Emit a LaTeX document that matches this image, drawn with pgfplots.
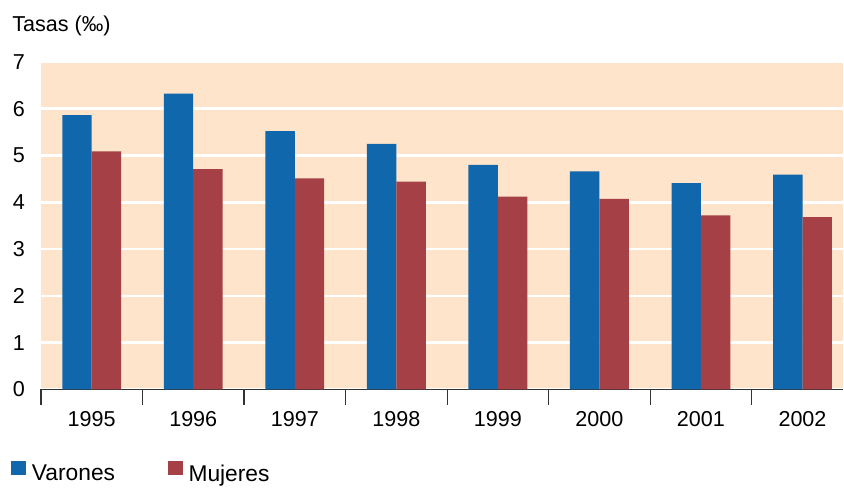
\documentclass[border=0pt]{standalone}
\usepackage{pgfplots}
\pgfplotsset{compat=1.18}
\usepackage{fontspec}
\setmainfont{Liberation Sans}
\definecolor{cblue}{HTML}{1167AC}
\definecolor{cred}{HTML}{A54046}
\definecolor{cpeach}{HTML}{FDE4CA}
\definecolor{caxis}{HTML}{333333}
\begin{document}
\begin{tikzpicture}[font=\fontsize{10.8}{13}\selectfont]
\begin{axis}[
  scale only axis, width=401.5pt, height=164pt,
  at={(0,0)}, anchor=south west,
  xmin=-0.5, xmax=7.396, ymin=0, ymax=7,
  ybar=0pt, bar width=14.75pt,
  axis background/.style={fill=cpeach},
  axis x line*=bottom, axis y line*=left,
  y axis line style={draw=none},
  x axis line style={draw=caxis, line width=0.6pt, -},
  xtick={0,1,2,3,4,5,6,7},
  xticklabels={1995,1996,1997,1998,1999,2000,2001,2002},
  minor xtick={-0.5,0.5,1.5,2.5,3.5,4.5,5.5,6.5},
  tick align=outside,
  major tick length=0pt,
  minor tick length=7.75pt,
  major x tick style={draw=none},
  minor x tick style={draw=caxis, line width=0.6pt},
  ytick={0,1,2,3,4,5,6,7},
  ytick style={draw=none},
  ymajorgrids,
  major grid style={white, line width=1.3pt},
  /pgf/number format/assume math mode=true,
  xticklabel style={yshift=-7.6pt},
  yticklabel style={xshift=-4.5pt},
  legend columns=2,
  legend style={draw=none, fill=none, inner sep=0pt, outer sep=0pt,
    font=\fontsize{11.4}{13}\selectfont,
    at={(0,0)}, anchor=south west, xshift=-15pt, yshift=-49.5pt,
    /tikz/every odd column/.append style={column sep=1pt},
    /tikz/every even column/.append style={column sep=24.3pt}},
  legend image code/.code={\fill[#1, draw=none] (0pt,0pt) rectangle (7.5pt,6.75pt);},
]
\addplot[fill=cblue, draw=none] coordinates {
  (0,5.86) (1,6.32) (2,5.52) (3,5.25) (4,4.80) (5,4.66) (6,4.41) (7,4.59)};
\addplot[fill=cred, draw=none] coordinates {
  (0,5.09) (1,4.71) (2,4.51) (3,4.44) (4,4.12) (5,4.07) (6,3.72) (7,3.68)};
\legend{Varones, Mujeres}
\end{axis}
\node[anchor=base west, inner sep=0pt] at (-14.5pt,179pt) {Tasas (‰)};
\path[use as bounding box] (-20.5pt,-44.5pt) rectangle (401.5pt,195pt);
\end{tikzpicture}
\end{document}
